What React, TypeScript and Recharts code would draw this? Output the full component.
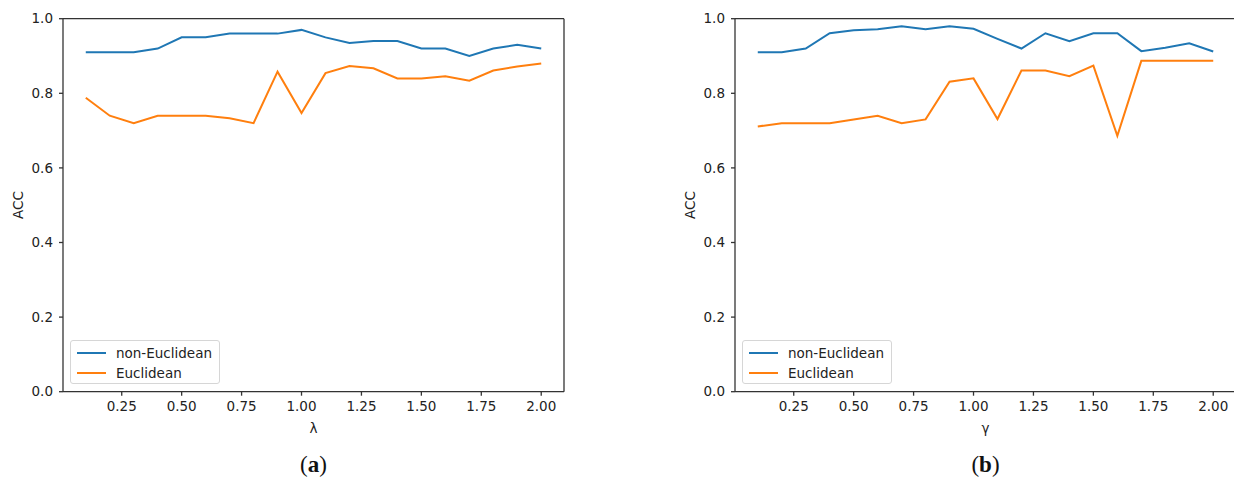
import React from 'react'
import {
  LineChart,
  Line,
  XAxis,
  YAxis,
  ReferenceLine,
} from 'recharts'

const xValues = [0.1, 0.2, 0.3, 0.4, 0.5, 0.6, 0.7, 0.8, 0.9, 1.0, 1.1, 1.2, 1.3, 1.4, 1.5, 1.6, 1.7, 1.8, 1.9, 2.0]

// (a) lambda
const lambdaNonEuclidean = [0.91, 0.91, 0.91, 0.92, 0.95, 0.95, 0.96, 0.96, 0.96, 0.97, 0.95, 0.935, 0.94, 0.94, 0.92, 0.92, 0.9, 0.92, 0.93, 0.92]
const lambdaEuclidean = [0.788, 0.74, 0.72, 0.74, 0.74, 0.74, 0.733, 0.72, 0.858, 0.747, 0.854, 0.873, 0.867, 0.84, 0.84, 0.846, 0.834, 0.861, 0.872, 0.88]

// (b) gamma
const gammaNonEuclidean = [0.91, 0.91, 0.92, 0.961, 0.969, 0.972, 0.98, 0.972, 0.98, 0.973, 0.946, 0.92, 0.961, 0.94, 0.961, 0.961, 0.913, 0.922, 0.934, 0.912]
const gammaEuclidean = [0.711, 0.72, 0.72, 0.72, 0.73, 0.74, 0.72, 0.73, 0.831, 0.84, 0.731, 0.861, 0.861, 0.846, 0.874, 0.686, 0.887, 0.887, 0.887, 0.887]

const xTicks = [0.25, 0.5, 0.75, 1.0, 1.25, 1.5, 1.75, 2.0]
const yTicks = [0, 0.2, 0.4, 0.6, 0.8, 1.0]

const seriesNames = ['non-Euclidean', 'Euclidean']
const BLUE = '#1f77b4'
const ORANGE = '#ff7f0e'
const AXIS = '#333'
const FONT = '"DejaVu Sans", sans-serif'

const CHART_W = 600
const CHART_H = 481
const X_DOMAIN = [0.005, 2.095]
// plot area: left 63, top 18.7, 501 x 373
const margin = { top: 18.7, right: 36, bottom: 0, left: 0 }

function buildRows(a: number[], b: number[]) {
  return xValues.map((x, i) => ({ x, nonEuclidean: a[i], euclidean: b[i] }))
}

const LegendBox = () => (
  <div
    style={{
      position: 'absolute',
      left: 70,
      top: 340,
      width: 150,
      height: 44,
      border: '1px solid #d6d6d6',
      borderRadius: 3,
      background: '#fff',
      boxSizing: 'border-box',
      fontFamily: FONT,
      fontSize: 13.5,
      color: '#222',
    }}
  >
    {seriesNames.map((name, i) => (
      <div key={name} style={{ position: 'absolute', left: 0, top: 1.5 + i * 20.4, height: 20, width: '100%' }}>
        <div
          style={{
            position: 'absolute',
            left: 6,
            top: 9,
            width: 29,
            height: 2,
            background: i === 0 ? BLUE : ORANGE,
          }}
        />
        <span style={{ position: 'absolute', left: 45, top: 1, lineHeight: '18px', whiteSpace: 'nowrap' }}>{name}</span>
      </div>
    ))}
  </div>
)

interface PanelProps {
  left: number
  rows: { x: number; nonEuclidean: number; euclidean: number }[]
  xLabel: string
  caption: string
}

function Panel({ left, rows, xLabel, caption }: PanelProps) {
  const plotCenter = 63 + 501 / 2
  return (
    <div style={{ position: 'absolute', left, top: 0, width: CHART_W, height: CHART_H }}>
      <LineChart width={CHART_W} height={CHART_H} data={rows} margin={margin}>
        <XAxis
          dataKey="x"
          type="number"
          domain={X_DOMAIN}
          allowDataOverflow
          ticks={xTicks}
          tickFormatter={(v: number) => v.toFixed(2)}
          height={89.3}
          tickSize={4}
          tickMargin={6}
          stroke={AXIS}
          strokeWidth={1.3}
          tick={{ fill: '#222', fontSize: 13.5, fontFamily: FONT }}
        />
        <YAxis
          domain={[0, 1]}
          ticks={yTicks}
          tickFormatter={(v: number) => v.toFixed(1)}
          width={63}
          tickSize={4}
          tickMargin={6}
          stroke={AXIS}
          strokeWidth={1.3}
          tick={{ fill: '#222', fontSize: 13.5, fontFamily: FONT }}
        />
        <ReferenceLine y={1} stroke={AXIS} strokeWidth={1.3} />
        <ReferenceLine x={X_DOMAIN[1]} stroke={AXIS} strokeWidth={1.3} />
        <Line
          dataKey="nonEuclidean"
          name={seriesNames[0]}
          stroke={BLUE}
          strokeWidth={2}
          dot={false}
          isAnimationActive={false}
        />
        <Line
          dataKey="euclidean"
          name={seriesNames[1]}
          stroke={ORANGE}
          strokeWidth={2}
          dot={false}
          isAnimationActive={false}
        />
      </LineChart>
      <LegendBox />
      <div
        style={{
          position: 'absolute',
          left: 18 - 30,
          top: 205 - 9,
          width: 60,
          textAlign: 'center',
          transform: 'rotate(-90deg)',
          fontFamily: FONT,
          fontSize: 13.5,
          lineHeight: '18px',
          color: '#222',
        }}
      >
        ACC
      </div>
      <div
        style={{
          position: 'absolute',
          left: plotCenter - 30,
          top: 419,
          width: 60,
          textAlign: 'center',
          fontFamily: FONT,
          fontSize: 13.5,
          lineHeight: '18px',
          color: '#222',
        }}
      >
        {xLabel}
      </div>
      <div
        style={{
          position: 'absolute',
          left: plotCenter - 40,
          top: 451,
          width: 80,
          textAlign: 'center',
          fontFamily: '"Liberation Serif", serif',
          fontSize: 23,
          lineHeight: '28px',
          color: '#111',
        }}
      >
        (<b>{caption}</b>)
      </div>
    </div>
  )
}

export default function App() {
  return (
    <div
      style={{
        position: 'absolute',
        left: 0,
        top: 0,
        width: 1234,
        height: 481,
        overflow: 'hidden',
        background: '#fff',
      }}
    >
      <Panel left={0} rows={buildRows(lambdaNonEuclidean, lambdaEuclidean)} xLabel="λ" caption="a" />
      <Panel left={672} rows={buildRows(gammaNonEuclidean, gammaEuclidean)} xLabel="γ" caption="b" />
    </div>
  )
}
